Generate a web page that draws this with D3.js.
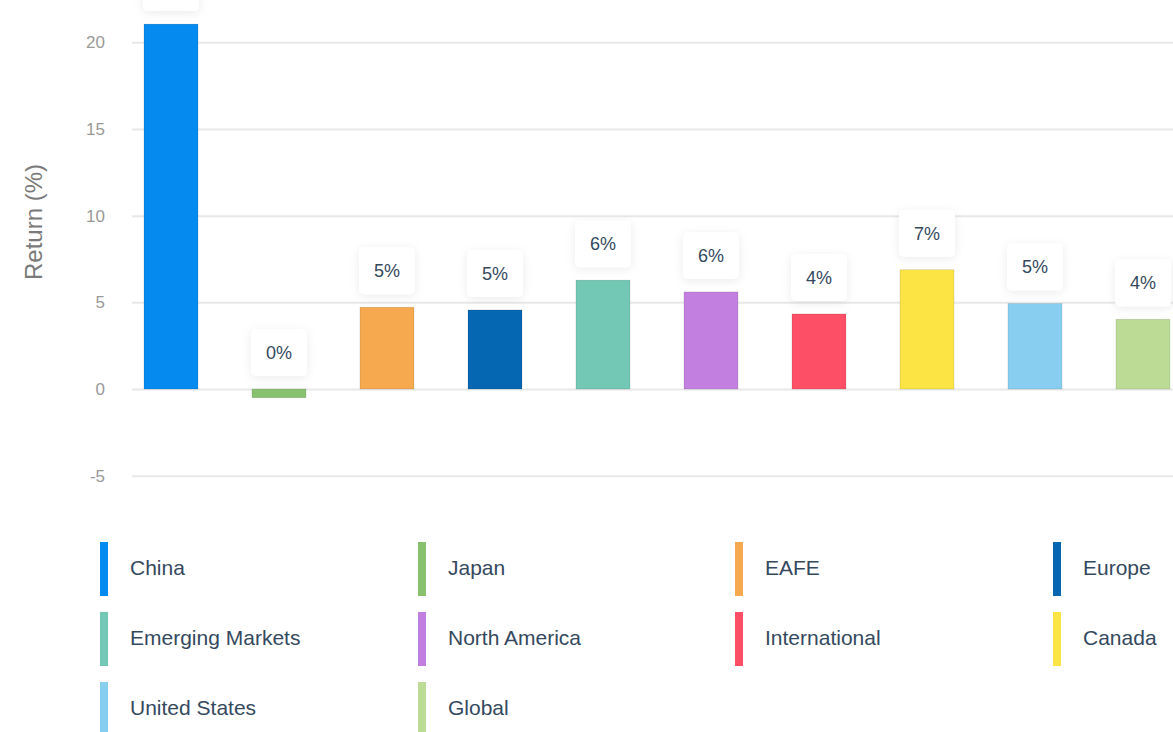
<!DOCTYPE html>
<html>
<head>
<meta charset="utf-8">
<script src="https://cdn.jsdelivr.net/npm/d3@7"></script>
<style>
  html, body { margin: 0; padding: 0; background: #fff; overflow: hidden; }
  svg { display: block; font-family: "Liberation Sans", Arial, sans-serif; }
</style>
</head>
<body>
<div id="container"></div>
<script>
const regions = ["China", "Japan", "EAFE", "Europe", "Emerging Markets", "North America", "International", "Canada", "United States", "Global"];
const returns = [21.05, -0.5, 4.72, 4.56, 6.28, 5.6, 4.33, 6.88, 4.93, 4.02];
const colors = ["#058bef", "#88c26f", "#f6a94f", "#0566b1", "#72c8b4", "#c27fe0", "#fd5067", "#fde445", "#87cef0", "#bcdc96"];
const yTicks = [-5, 0, 5, 10, 15, 20];

const W = 1173, H = 732;

const svg = d3.select("#container")
  .append("svg")
  .attr("width", W)
  .attr("height", H);

// soft shadow for the value boxes
const filter = svg.append("defs").append("filter")
  .attr("id", "shadow")
  .attr("x", "-50%").attr("y", "-50%")
  .attr("width", "200%").attr("height", "200%");
filter.append("feDropShadow")
  .attr("dx", 0).attr("dy", 2)
  .attr("stdDeviation", 5)
  .attr("flood-color", "#000")
  .attr("flood-opacity", 0.08);

const x = d3.scaleBand()
  .domain(regions)
  .range([117, 1197])
  .paddingInner(0.5)
  .paddingOuter(0.25);

const y = d3.scaleLinear()
  .domain([-5, 20])
  .range([475.7, 42.3]);

// grid + tick labels
const yAxis = svg.append("g")
  .attr("transform", "translate(132,0)")
  .call(d3.axisLeft(y).tickValues(yTicks).tickSize(0).tickPadding(27).tickFormat(d => d < 0 ? "-" + Math.abs(d) : d));
yAxis.select(".domain").remove();
yAxis.selectAll("text")
  .style("font-size", "17px")
  .style("fill", "#999999")
  .style("font-family", "\"Liberation Sans\", Arial, sans-serif");
yAxis.selectAll(".tick line")
  .attr("x2", W - 132)
  .attr("stroke", "#e8e8e8")
  .attr("stroke-width", 2);

svg.append("text")
  .attr("transform", "translate(42,222) rotate(-90)")
  .attr("text-anchor", "middle")
  .style("font-size", "24px")
  .style("fill", "#7a7a7a")
  .text("Return (%)");

// bars
svg.append("g")
  .selectAll("rect")
  .data(regions)
  .join("rect")
  .attr("x", d => x(d))
  .attr("width", x.bandwidth())
  .attr("y", (d, i) => y(Math.max(0, returns[i])))
  .attr("height", (d, i) => Math.abs(y(returns[i]) - y(0)))
  .attr("fill", (d, i) => colors[i])
  .attr("stroke", "rgba(0,0,0,0.18)")
  .attr("stroke-width", 0.6);

// value labels
const boxW = 56, boxH = 47, gap = 13;
const labels = svg.append("g")
  .selectAll("g")
  .data(regions)
  .join("g")
  .attr("transform", (d, i) => `translate(${x(d) + x.bandwidth() / 2},${y(Math.max(0, returns[i])) - gap - boxH})`);

labels.append("rect")
  .attr("x", -boxW / 2)
  .attr("width", boxW)
  .attr("height", boxH)
  .attr("rx", 5)
  .attr("fill", "#fff")
  .attr("filter", "url(#shadow)");

labels.append("text")
  .attr("y", boxH / 2)
  .attr("dy", "0.35em")
  .attr("text-anchor", "middle")
  .style("font-size", "18px")
  .style("fill", "#34495e")
  .text((d, i) => Math.abs(Math.round(returns[i])) + "%");

// legend
const legendCols = [100, 418, 735, 1053];
const legend = svg.append("g")
  .selectAll("g")
  .data(regions)
  .join("g")
  .attr("transform", (d, i) => `translate(${legendCols[i % 4]},${542 + Math.floor(i / 4) * 70})`);

legend.append("rect")
  .attr("width", 8)
  .attr("height", 54)
  .attr("fill", (d, i) => colors[i]);

legend.append("text")
  .attr("x", 30)
  .attr("y", 26)
  .attr("dy", "0.35em")
  .style("font-size", "21px")
  .style("fill", "#34495e")
  .text(d => d);
</script>
</body>
</html>
